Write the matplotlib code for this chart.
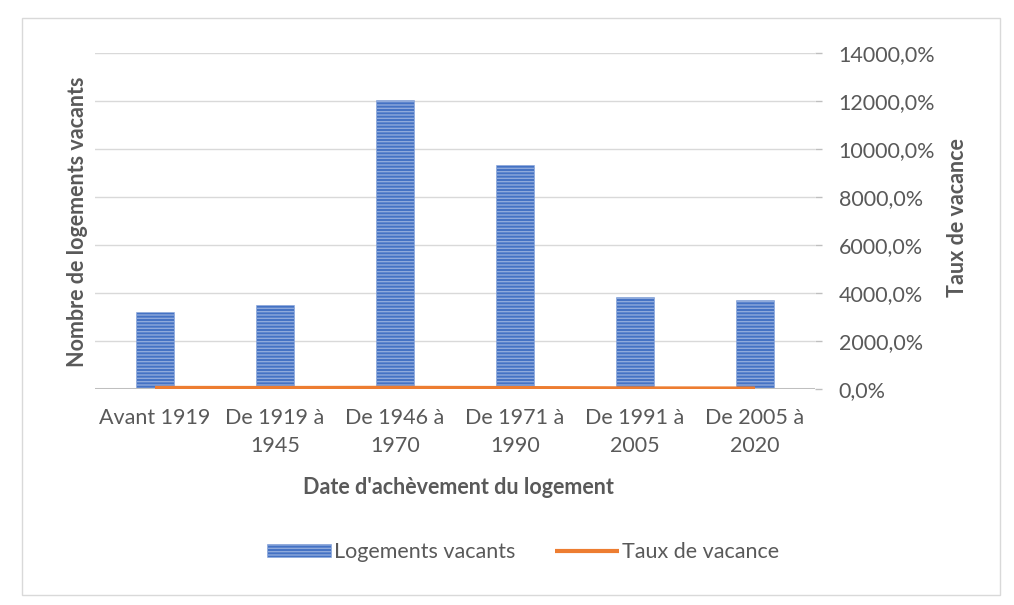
import matplotlib
matplotlib.use("Agg")
import matplotlib.pyplot as plt
from matplotlib.patches import Rectangle
from matplotlib.ticker import FuncFormatter, MultipleLocator

plt.rcParams['font.family'] = ['Lato', 'DejaVu Sans']

periodes = ["Avant 1919", "De 1919 à\n1945", "De 1946 à\n1970",
            "De 1971 à\n1990", "De 1991 à\n2005", "De 2005 à\n2020"]
logements_vacants = [3200, 3490, 12050, 9320, 3830, 3720]
taux_vacance = [45, 42, 48, 40, 25, 20]

TXT = "#595959"
BLUE = "#4472C4"
ORANGE = "#ED7D31"
FS = 15.5

fig = plt.figure(figsize=(10.14, 6.05), dpi=100)
fig.patches.append(Rectangle((22 / 1014, 1 - 595 / 605), 978 / 1014, 577 / 605,
                             transform=fig.transFigure, fill=False,
                             edgecolor="#D9D9D9", linewidth=1))

ax = fig.add_axes([95 / 1014, 1 - 389 / 605, 720 / 1014, 336 / 605])
ax2 = ax.twinx()

x = list(range(len(periodes)))
bars = ax.bar(x, logements_vacants, width=0.31, color=BLUE,
              edgecolor="#8EA9DB", linewidth=0.4, hatch="-----", zorder=2)
ax2.plot(x, taux_vacance, color=ORANGE, linewidth=3, solid_capstyle="butt", zorder=3)

for a in (ax, ax2):
    a.set_ylim(0, 14000)
    a.set_xlim(-0.5, len(periodes) - 0.5)
    for s in a.spines.values():
        s.set_visible(False)

ax.yaxis.set_major_locator(MultipleLocator(2000))
ax.grid(axis="y", color="#D9D9D9", linewidth=1, zorder=0)
ax.set_axisbelow(True)
ax.tick_params(axis="y", left=False, labelleft=False)
ax.axhline(0, color="#BFBFBF", linewidth=2.2, zorder=2.5)

ax.set_xticks(x)
ax.set_xticklabels(periodes, fontsize=FS, color=TXT, linespacing=1.45)
ax.tick_params(axis="x", length=0, pad=14)

ax2.yaxis.set_major_locator(MultipleLocator(2000))
ax2.yaxis.set_major_formatter(FuncFormatter(lambda v, p: f"{v:.1f}%".replace(".", ",")))
ax2.tick_params(axis="y", colors="#BFBFBF", labelcolor=TXT, labelsize=FS,
                length=5, width=1, pad=12)

fig.text(458 / 1014, 1 - 488 / 605, "Date d'achèvement du logement",
         ha="center", va="center", fontsize=FS, fontweight="bold", color=TXT)
fig.text(78 / 1014, 1 - 222 / 605, "Nombre de logements vacants", rotation=90,
         ha="center", va="center", fontsize=FS, fontweight="bold", color=TXT)
fig.text(958 / 1014, 1 - 218 / 605, "Taux de vacance", rotation=90,
         ha="center", va="center", fontsize=FS, fontweight="bold", color=TXT)

handles = [bars, ax2.lines[0]]
fig.legend(handles, ["Logements vacants", "Taux de vacance"], loc="center",
           bbox_to_anchor=(523 / 1014, 1 - 552 / 605), ncol=2, frameon=False,
           fontsize=FS, labelcolor=TXT, handlelength=3.0, handleheight=0.55,
           columnspacing=1.8, handletextpad=0.15)

fig.savefig("out.png", dpi=100)
